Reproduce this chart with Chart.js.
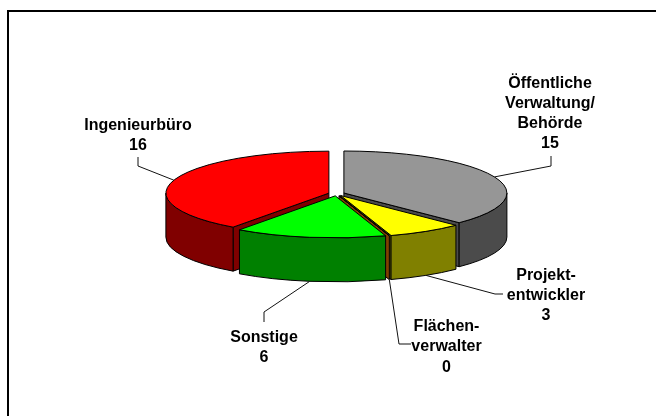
<!DOCTYPE html>
<html>
<head>
<meta charset="utf-8">
<style>html,body{margin:0;padding:0;background:#fff}canvas{display:block}</style>
<script src="https://cdn.jsdelivr.net/npm/chart.js@4/dist/chart.umd.min.js"></script>
</head>
<body>
<canvas id="c" width="656" height="416"></canvas>
<script>
// Data
const categories = ["Öffentliche Verwaltung/ Behörde", "Projektentwickler", "Flächenverwalter", "Sonstige", "Ingenieurbüro"];
const values = [15, 3, 0, 6, 16];
const labelLines = [
  ["Öffentliche", "Verwaltung/", "Behörde"],
  ["Projekt-", "entwickler"],
  ["Flächen-", "verwalter"],
  ["Sonstige"],
  ["Ingenieurbüro"]
];
const topColors = ["#969696", "#FFFF00", "#FF8000", "#00FF00", "#FF0000"];
const wallColors = ["#4B4B4B", "#808000", "#804000", "#008000", "#800000"];

// Layout and style
const TILT = 0.2577, DEPTH = 44, CENTER_Y = 193.8, EXPLODE = 8, RADIUS = 163;
const labelLayout = [
  {x: 550, y: [83.5, 103.5, 123.5, 143.5], path: [[551, 166], [551, 156]], bottom: false},
  {x: 546, y: [275.5, 295.5, 315.5], path: [[495, 294], [503, 294]], bottom: true},
  {x: 446.5, y: [326.5, 346.5, 367.5], path: [[399, 344], [411, 344]], bottom: true},
  {x: 264, y: [337.5, 357.5], path: [[264, 312], [264, 322]], bottom: true},
  {x: 138, y: [125.5, 145.5], path: [[138, 166], [138, 157]], bottom: false}
];

const pie3d = {
  id: 'pie3d',
  beforeDraw(chart) {
    const ctx = chart.ctx;
    ctx.save();
    ctx.fillStyle = '#000';
    ctx.fillRect(7, 10, 649, 2);
    ctx.fillRect(7, 10, 2, 406);
    ctx.restore();
  },
  beforeDatasetDraw(chart) {
    const ctx = chart.ctx;
    const arcs = chart.getDatasetMeta(0).data;
    const info = arcs.map((arc, i) => {
      const s = arc.startAngle, e = arc.endAngle, r = arc.outerRadius, m = (s + e) / 2;
      const off = arc.options.offset;
      return {i, s, e, r, m,
        cx: arc.x + Math.cos(m) * off,
        cy: CENTER_Y + Math.sin(m) * off * TILT,
        ry: r * TILT};
    });
    ctx.save();
    ctx.lineWidth = 1;
    ctx.strokeStyle = '#000';
    ctx.lineJoin = 'round';
    const order = info.slice().sort((a, b) => Math.sin(a.m) - Math.sin(b.m));
    const face = (p, a) => {
      const x = p.cx + Math.cos(a) * p.r, y = p.cy + Math.sin(a) * p.ry;
      ctx.beginPath();
      ctx.moveTo(p.cx, p.cy);
      ctx.lineTo(x, y);
      ctx.lineTo(x, y + DEPTH);
      ctx.lineTo(p.cx, p.cy + DEPTH);
      ctx.closePath();
      ctx.fillStyle = wallColors[p.i];
      ctx.fill();
      ctx.stroke();
    };
    for (const p of order) {
      // cut faces
      if (Math.cos(p.s) < 0) face(p, p.s);
      if (Math.cos(p.e) > 0) face(p, p.e);
      // outer wall
      const lo = Math.max(p.s, 0), hi = Math.min(p.e, Math.PI);
      if (hi > lo) {
        ctx.beginPath();
        ctx.ellipse(p.cx, p.cy, p.r, p.ry, 0, lo, hi);
        ctx.ellipse(p.cx, p.cy + DEPTH, p.r, p.ry, 0, hi, lo, true);
        ctx.closePath();
        ctx.fillStyle = wallColors[p.i];
        ctx.fill();
        ctx.stroke();
      }
      // top face
      ctx.beginPath();
      ctx.moveTo(p.cx, p.cy);
      ctx.ellipse(p.cx, p.cy, p.r, p.ry, 0, p.s, p.e);
      ctx.closePath();
      ctx.fillStyle = topColors[p.i];
      ctx.fill();
      ctx.stroke();
    }
    // leader lines
    ctx.strokeStyle = '#111';
    info.forEach(p => {
      const L = labelLayout[p.i];
      const sx = p.cx + Math.cos(p.m) * p.r;
      const sy = p.cy + Math.sin(p.m) * p.ry + (L.bottom ? DEPTH : 0);
      ctx.beginPath();
      ctx.moveTo(sx, sy);
      L.path.forEach(q => ctx.lineTo(q[0], q[1]));
      ctx.stroke();
    });
    // labels
    ctx.fillStyle = '#000';
    ctx.font = 'bold 16px "Liberation Sans", Arial, sans-serif';
    ctx.textAlign = 'center';
    ctx.textBaseline = 'middle';
    info.forEach(p => {
      const L = labelLayout[p.i];
      const lines = labelLines[p.i].concat(String(values[p.i]));
      lines.forEach((t, k) => ctx.fillText(t, L.x, L.y[k]));
    });
    ctx.restore();
    return false;
  }
};

new Chart(document.getElementById('c'), {
  type: 'pie',
  data: {
    labels: categories,
    datasets: [{
      data: values,
      backgroundColor: topColors,
      borderColor: '#000',
      borderWidth: 1,
      offset: EXPLODE,
      radius: RADIUS
    }]
  },
  options: {
    responsive: false,
    animation: false,
    events: [],
    layout: {padding: {left: 17}},
    plugins: {legend: {display: false}, tooltip: {enabled: false}, title: {display: false}}
  },
  plugins: [pie3d]
});
</script>
</body>
</html>
